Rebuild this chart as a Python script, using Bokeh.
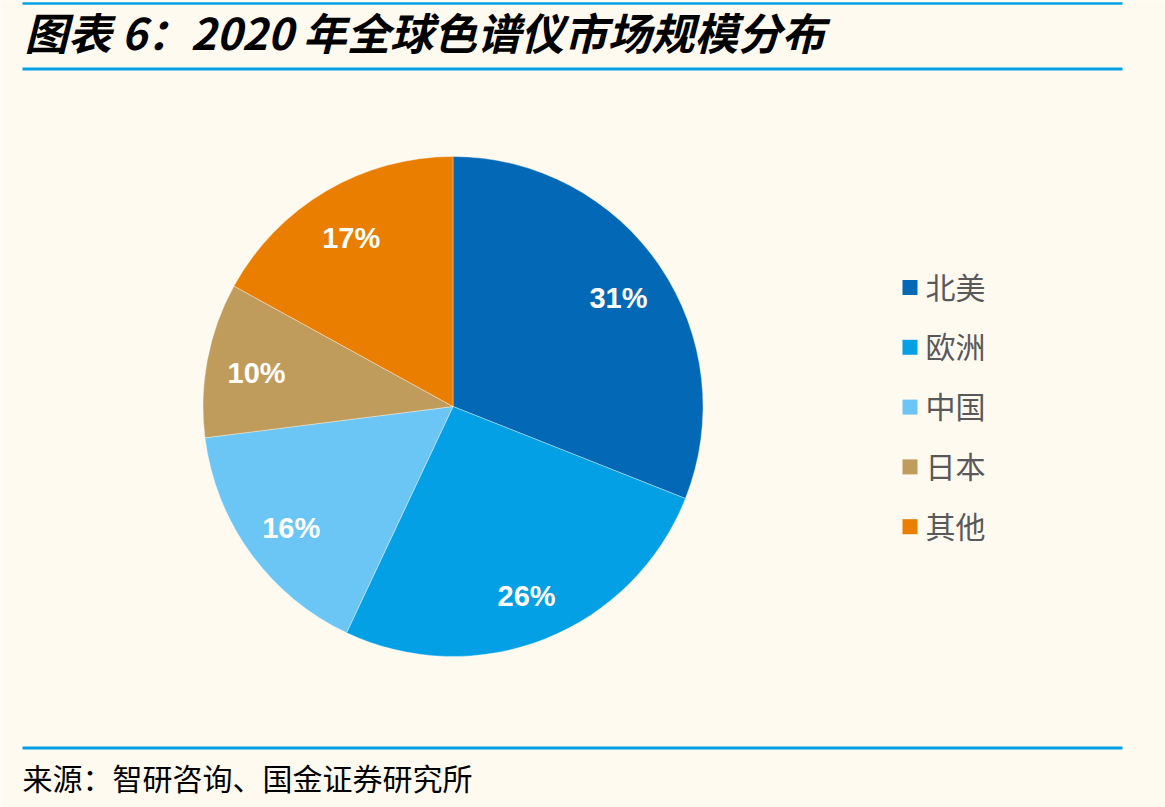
import numpy as np
from bokeh.plotting import figure
from bokeh.models import Range1d, ColumnDataSource
from bokeh.core.properties import value
from bokeh.embed import file_html
from bokeh.resources import INLINE

# ---- data ----
regions = ["北美", "欧洲", "中国", "日本", "其他"]
shares = [31, 26, 16, 10, 17]          # percent of 2020 global market
colors = ["#0369B6", "#04A0E6", "#6CC6F5", "#C09C5C", "#E97E00"]
title_text = "图表 6：2020 年全球色谱仪市场规模分布"
source_text = "来源：智研咨询、国金证券研究所"

# ---- page geometry (pixel units, y measured from top) ----
W, H = 1165, 807
BG = "#FFFAF0"
RULE = "#04A0E6"
CJK = "Noto Sans CJK SC"


def Y(py):
    return H - py


p = figure(width=W, height=H, x_range=Range1d(0, W), y_range=Range1d(0, H),
           output_backend="svg", toolbar_location=None, min_border=0,
           outline_line_color=None, background_fill_color=BG,
           border_fill_color=BG)
p.axis.visible = False
p.grid.visible = False

# ---- header / footer rules ----
p.segment(x0=[22, 22, 22], x1=[1122, 1122, 1122],
          y0=[Y(3), Y(68.5), Y(747.5)], y1=[Y(3), Y(68.5), Y(747.5)],
          line_color=RULE, line_width=[2.5, 3, 3])

p.text(x=[24], y=[Y(31)], text=[title_text], text_font=value(CJK),
       text_font_size=value("43.5px"), text_font_style="bold italic",
       text_color="#000000", text_align="left", text_baseline="middle")

p.text(x=[22], y=[Y(776)], text=[source_text], text_font=value(CJK),
       text_font_size=value("30px"), text_color="#000000",
       text_align="left", text_baseline="middle")

# ---- pie, starting at 12 o'clock and running clockwise ----
cx, cy, R = 452.5, Y(406), 250
frac = np.array(shares, dtype=float) / sum(shares)
cum = np.concatenate([[0.0], np.cumsum(frac)])
start = np.pi / 2 - 2 * np.pi * cum[:-1]
end = np.pi / 2 - 2 * np.pi * cum[1:]
mid = (start + end) / 2

pie_src = ColumnDataSource(dict(start=start, end=end, color=colors,
                                region=regions, share=shares))
p.wedge(x=cx, y=cy, radius=R, start_angle="start", end_angle="end",
        direction="clock", fill_color="color", line_color="#FFFFFF",
        line_width=0.6, line_alpha=0.6, source=pie_src)

lab_r = 0.8 * R
p.text(x=cx + lab_r * np.cos(mid), y=cy + lab_r * np.sin(mid) - 4,
       text=[f"{v}%" for v in shares], text_font=value("Liberation Sans"),
       text_font_size=value("29px"), text_font_style="bold",
       text_color="#FFFFFF", text_align="center", text_baseline="middle")

# ---- legend ----
rows = np.arange(len(regions))
leg_y = [Y(287 + 59.8 * i) for i in rows]
p.rect(x=[909.5] * len(regions), y=leg_y, width=15, height=15,
       fill_color=colors, line_color=None)
p.text(x=[925] * len(regions), y=[v + 2 for v in leg_y], text=regions,
       text_font=value(CJK), text_font_size=value("30px"),
       text_color="#595959", text_align="left", text_baseline="middle")

open("out.html", "w").write(file_html(p, INLINE))
